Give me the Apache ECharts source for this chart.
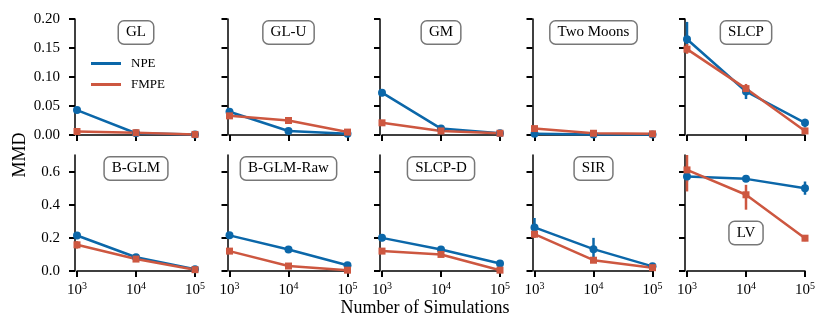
<!DOCTYPE html>
<html>
<head>
    <meta charset="UTF-8">
    <title>MMD vs simulations</title>
    <script src="https://cdn.jsdelivr.net/npm/echarts@6/dist/echarts.min.js"></script>
    <style>
        body, html {
            margin: 0;
            padding: 0;
            height: 100%;
            width: 100%;
            background: #fff;
        }

        #chart {
            width: 831px;
            height: 332px;
        }
    </style>
</head>
<body>
<div id="chart"></div>
<script>
    // data
    var panels = ['GL', 'GL-U', 'GM', 'Two Moons', 'SLCP', 'B-GLM', 'B-GLM-Raw', 'SLCP-D', 'SIR', 'LV'];
    var sims = [1000, 10000, 100000];

    var npeMean = [
        [0.043, 0.003, 0.001], [0.040, 0.007, 0.002], [0.073, 0.011, 0.003], [0.002, 0.001, 0.001], [0.165, 0.075, 0.021],
        [0.214, 0.083, 0.010], [0.215, 0.130, 0.035], [0.200, 0.130, 0.045], [0.263, 0.132, 0.028], [0.570, 0.556, 0.500]
    ];
    var npeLo = [
        [0.039, 0.002, 0.000], [0.037, 0.005, 0.001], [0.067, 0.009, 0.002], [0.001, 0.000, 0.000], [0.155, 0.062, 0.013],
        [0.195, 0.075, 0.006], [0.205, 0.122, 0.030], [0.180, 0.120, 0.035], [0.220, 0.070, 0.020], [0.540, 0.540, 0.460]
    ];
    var npeHi = [
        [0.047, 0.004, 0.002], [0.043, 0.009, 0.003], [0.079, 0.013, 0.004], [0.003, 0.002, 0.002], [0.195, 0.085, 0.028],
        [0.232, 0.091, 0.014], [0.225, 0.138, 0.040], [0.220, 0.140, 0.055], [0.320, 0.200, 0.035], [0.600, 0.572, 0.540]
    ];

    var fmpeMean = [
        [0.006, 0.004, 0.001], [0.033, 0.025, 0.005], [0.021, 0.007, 0.003], [0.011, 0.003, 0.002], [0.148, 0.080, 0.007],
        [0.158, 0.072, 0.008], [0.120, 0.030, 0.005], [0.120, 0.100, 0.005], [0.222, 0.065, 0.020], [0.610, 0.460, 0.198]
    ];
    var fmpeLo = [
        [0.003, 0.002, 0.000], [0.029, 0.022, 0.003], [0.018, 0.005, 0.002], [0.008, 0.002, 0.001], [0.140, 0.072, 0.003],
        [0.135, 0.060, 0.004], [0.105, 0.022, 0.002], [0.108, 0.090, 0.002], [0.200, 0.055, 0.012], [0.480, 0.370, 0.180]
    ];
    var fmpeHi = [
        [0.009, 0.006, 0.002], [0.037, 0.028, 0.007], [0.024, 0.009, 0.004], [0.014, 0.004, 0.003], [0.157, 0.088, 0.011],
        [0.180, 0.084, 0.012], [0.135, 0.038, 0.008], [0.132, 0.110, 0.008], [0.245, 0.075, 0.028], [0.700, 0.520, 0.215]
    ];

    var topTicks = [0, 0.05, 0.10, 0.15, 0.20];
    var bottomTicks = [0, 0.2, 0.4, 0.6];

    var BLUE = '#0b67a9';
    var RED = '#cd5740';
    var FONT = 'Liberation Serif';

    var chart = echarts.init(document.getElementById('chart'), null, {renderer: 'canvas'});

    function errRender(color) {
        return function (params, api) {
            var p1 = api.coord([api.value(0), api.value(1)]);
            var p2 = api.coord([api.value(0), api.value(2)]);
            return {
                type: 'line',
                shape: {x1: p1[0], y1: p1[1], x2: p2[0], y2: p2[1]},
                style: {stroke: color, lineWidth: 2.5}
            };
        };
    }

    var grids = [], xAxes = [], yAxes = [], series = [], graphics = [];

    panels.forEach(function (name, i) {
        var row = Math.floor(i / 5), col = i % 5;
        var left = 77 + col * 152.5;
        var top = row === 0 ? 19 : 155;
        grids.push({left: left, top: top, width: 118, height: 116});

        xAxes.push({
            gridIndex: i, type: 'log', logBase: 10, min: 1000, max: 100000,
            axisLine: {lineStyle: {color: '#000', width: 1.5}},
            axisTick: {length: 6, lineStyle: {color: '#000', width: 2}},
            minorTick: {show: false},
            splitLine: {show: false},
            axisLabel: {
                show: row === 1, margin: 10,
                formatter: function (v) {
                    return '{b|10}{s|' + Math.round(Math.log10(v)) + '}';
                },
                rich: {
                    b: {fontFamily: FONT, fontSize: 15, color: '#000'},
                    s: {fontFamily: FONT, fontSize: 10, color: '#000', padding: [0, 0, 8, 0]}
                }
            }
        });

        var ticks = row === 0 ? topTicks : bottomTicks;
        yAxes.push({
            gridIndex: i, type: 'value', min: 0, max: row === 0 ? 0.2 : 0.7,
            offset: 2,
            axisLine: {show: true, lineStyle: {color: '#000', width: 1.5}},
            axisTick: {show: true, length: 6, customValues: ticks, lineStyle: {color: '#000', width: 2}},
            splitLine: {show: false},
            axisLabel: {
                show: col === 0, customValues: ticks, margin: 15,
                fontFamily: FONT, fontSize: 15, color: '#000',
                formatter: function (v) {
                    return row === 0 ? v.toFixed(2) : v.toFixed(1);
                }
            }
        });

        var npeErr = sims.map(function (s, k) { return [s, npeLo[i][k], npeHi[i][k]]; });
        var fmpeErr = sims.map(function (s, k) { return [s, fmpeLo[i][k], fmpeHi[i][k]]; });

        series.push({
            type: 'custom', name: 'NPE err', xAxisIndex: i, yAxisIndex: i,
            renderItem: errRender(BLUE), encode: {x: 0, y: [1, 2]}, data: npeErr, silent: true
        });
        series.push({
            type: 'line', name: 'NPE', xAxisIndex: i, yAxisIndex: i, color: BLUE,
            symbol: 'circle', symbolSize: 8, lineStyle: {width: 2.5},
            data: sims.map(function (s, k) { return [s, npeMean[i][k]]; })
        });
        series.push({
            type: 'custom', name: 'FMPE err', xAxisIndex: i, yAxisIndex: i,
            renderItem: errRender(RED), encode: {x: 0, y: [1, 2]}, data: fmpeErr, silent: true
        });
        series.push({
            type: 'line', name: 'FMPE', xAxisIndex: i, yAxisIndex: i, color: RED,
            symbol: 'rect', symbolSize: 7, lineStyle: {width: 2.5},
            data: sims.map(function (s, k) { return [s, fmpeMean[i][k]]; })
        });

        // panel label box
        graphics.push({
            type: 'text', z: 50,
            x: left + 59,
            y: name === 'LV' ? 233 : top + 13.5,
            style: {
                text: name, fontFamily: FONT, fontSize: 15, fill: '#000',
                align: 'center', verticalAlign: 'middle',
                backgroundColor: '#fff', borderColor: '#777', borderWidth: 1.5, borderRadius: 5,
                padding: [4, 7, 3, 7]
            }
        });
    });

    graphics.push({
        type: 'text', x: 20, y: 155, rotation: Math.PI / 2,
        style: {text: 'MMD', fontFamily: FONT, fontSize: 18, fill: '#000', align: 'center', verticalAlign: 'middle'}
    });
    graphics.push({
        type: 'text', x: 425, y: 308,
        style: {text: 'Number of Simulations', fontFamily: FONT, fontSize: 18, fill: '#000', align: 'center', verticalAlign: 'middle'}
    });

    chart.setOption({
        animation: false,
        backgroundColor: '#fff',
        grid: grids,
        xAxis: xAxes,
        yAxis: yAxes,
        legend: {
            data: ['NPE', 'FMPE'], orient: 'vertical', left: 86, top: 52,
            icon: 'rect', itemWidth: 30, itemHeight: 3, itemGap: 8,
            textStyle: {fontFamily: FONT, fontSize: 13, color: '#000', padding: [0, 0, 0, 5]}
        },
        graphic: graphics,
        series: series
    });
</script>
</body>
</html>
